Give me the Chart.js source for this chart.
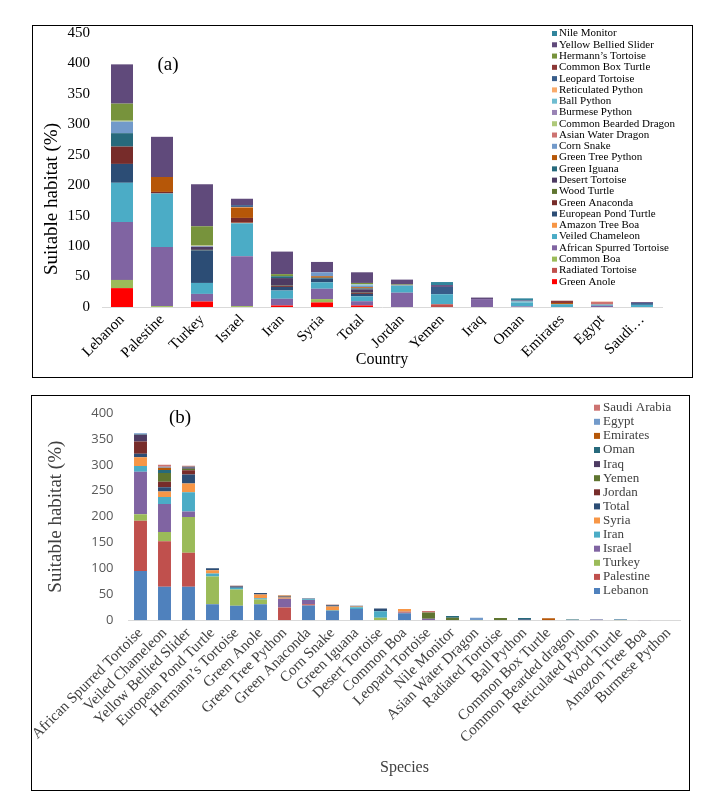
<!DOCTYPE html>
<html>
<head>
<meta charset="utf-8">
<script src="https://cdn.jsdelivr.net/npm/chart.js@4.4.0/dist/chart.umd.min.js"></script>
<style>
body{margin:0;background:#fff;}
.panel{position:absolute;border:1px solid #000;box-sizing:border-box;background:#fff;}
#pa{left:32px;top:25px;width:661px;height:353px;}
#pb{left:31px;top:395px;width:659px;height:396px;}
canvas{display:block;}
</style>
</head>
<body>
<div class="panel" id="pa"><canvas id="chartA"></canvas></div>
<div class="panel" id="pb"><canvas id="chartB"></canvas></div>
<script>
// countries (x axis of panel a, stacks of panel b)
const countries = ['Lebanon','Palestine','Turkey','Israel','Iran','Syria','Total','Jordan','Yemen','Iraq','Oman','Emirates','Egypt','Saudi Arabia'];
const countryTicks = ['Lebanon','Palestine','Turkey','Israel','Iran','Syria','Total','Jordan','Yemen','Iraq','Oman','Emirates','Egypt','Saudi\u2026'];
const countryColors = ['#4F81BD','#C0504D','#9BBB59','#8064A2','#4BACC6','#F79646','#2C4D75','#772C2A','#5F7530','#4D3B62','#276A7C','#B65708','#729ACA','#CD7371'];

// suitable habitat (%) per country, same order as countries
const greenAnole        = [31, 0, 9, 0, 2.5, 7.5, 2.5, 0, 0, 0, 0, 0, 0, 0];
const radiatedTortoise  = [0, 0, 0, 0, 0, 0, 0, 0, 4.5, 0, 0, 0, 0, 0];
const commonBoa         = [13.5, 1.5, 0, 1.5, 0, 5.5, 0, 0, 0, 0, 0, 0, 0, 0];
const africanSpurred    = [95, 97, 12.5, 82, 11, 17, 7, 23.5, 0, 13, 1, 0, 2, 0];
const veiledChameleon   = [64.5, 88, 18, 54, 13.5, 10.5, 8, 11, 16.5, 0, 6, 4.5, 2, 3.5];
const amazonTreeBoa     = [0, 0, 0, 0.8, 0, 0, 0, 0, 0, 0, 0, 0, 0, 0];
const europeanPond      = [31, 0, 53.5, 0, 6, 6, 4, 0, 0, 0, 0, 0, 0, 0];
const greenAnaconda     = [28.5, 2.5, 0, 8, 1.5, 0, 1.5, 0, 0, 0, 0, 0, 0, 0];
const woodTurtle        = [0, 0, 0.8, 0, 0.5, 0, 0.5, 0, 0, 0, 0, 0, 0, 0];
const desertTortoise    = [0, 0, 5, 0, 12.5, 0, 5.5, 0, 0, 0, 0, 0, 0, 0];
const greenIguana       = [22, 0, 0, 0, 3, 1.5, 1.5, 0, 0, 0, 0, 0, 0, 0];
const greenTreePython   = [0, 24.5, 0, 17, 0, 2.5, 2, 0, 0, 0, 0, 2, 0, 0];
const cornSnake         = [19, 0, 1, 0, 0, 6.5, 2.5, 1, 0, 0, 0, 0, 0, 0];
const asianWaterDragon  = [0, 0, 0.5, 0, 0, 0, 0, 0, 0, 0, 0, 0, 4.5, 0];
const beardedDragon     = [1.5, 0, 0.8, 0, 0, 0, 0, 0, 0, 0, 0, 0, 0, 0];
const burmesePython     = [0, 0, 0, 0, 0, 0, 0, 0, 0, 0, 0, 0, 0, 0];
const ballPython        = [0, 0, 0, 0, 0, 0, 2, 0, 0, 0, 2.2, 0, 0, 0];
const reticulatedPython = [0, 0, 0, 1, 0, 0, 0.5, 0, 0, 0, 0, 0, 0.5, 0];
const leopardTortoise   = [0, 0, 0, 3, 0, 0, 0, 0, 12, 0, 0, 0, 0, 3];
const commonBoxTurtle   = [0, 0, 0, 0, 0, 0, 0, 0, 0, 0, 0, 3.8, 0, 0];
const hermannsTortoise  = [28, 0, 31.5, 0, 3.5, 0, 2, 1.5, 0, 0, 0, 0, 0, 0];
const yellowBellied     = [64.5, 66, 69, 10.5, 37, 17, 17.5, 8, 3, 2.5, 1.5, 0, 0, 1.5];
const nileMonitor       = [0, 0, 0, 0, 0, 0, 0, 0, 5, 0, 3.5, 0, 0, 0];

// stack order of panel a, bottom to top
const speciesNames = ['Green Anole','Radiated Tortoise','Common Boa','African Spurred Tortoise','Veiled Chameleon','Amazon Tree Boa','European Pond Turtle','Green Anaconda','Wood Turtle','Desert Tortoise','Green Iguana','Green Tree Python','Corn Snake','Asian Water Dragon','Common Bearded Dragon','Burmese Python','Ball Python','Reticulated Python','Leopard Tortoise','Common Box Turtle','Hermann\u2019s Tortoise','Yellow Bellied Slider','Nile Monitor'];
const speciesValues = [greenAnole, radiatedTortoise, commonBoa, africanSpurred, veiledChameleon, amazonTreeBoa, europeanPond, greenAnaconda, woodTurtle, desertTortoise, greenIguana, greenTreePython, cornSnake, asianWaterDragon, beardedDragon, burmesePython, ballPython, reticulatedPython, leopardTortoise, commonBoxTurtle, hermannsTortoise, yellowBellied, nileMonitor];
const speciesColors = ['#FF0000','#C0504D','#9BBB59','#8064A2','#4BACC6','#F79646','#2C4D75','#772C2A','#5F7530','#4D3B62','#276A7C','#B65708','#729ACA','#CD7371','#AFC97A','#9983B5','#6FBDD1','#F9AB6B','#385D8A','#8C3836','#77933C','#604A7B','#31859C'];

// x order of panel b (by total) and its tick labels
const speciesOrderB = ['African Spurred Tortoise','Veiled Chameleon','Yellow Bellied Slider','European Pond Turtle','Hermann\u2019s Tortoise','Green Anole','Green Tree Python','Green Anaconda','Corn Snake','Green Iguana','Desert Tortoise','Common Boa','Leopard Tortoise','Nile Monitor','Asian Water Dragon','Radiated Tortoise','Ball Python','Common Box Turtle','Common Bearded Dragon','Reticulated Python','Wood Turtle','Amazon Tree Boa','Burmese Python'];
const speciesTicksB = ['African Spurred Tortoise','Veiled Chameleon','Yellow Bellied Slider','European Pond Turtle','Hermann\u2019s Tortoise','Green Anole','Green Tree Python','Green Anaconda','Corn Snake','Green Iguana','Desert Tortoise','Common Boa','Leopard Tortoise','Nile Monitor','Asian Water Dragon','Radiated Tortoise','Ball Python','Common Box Turtle','Common Bearded dragon','Reticulated Python','Wood Turtle','Amazon Tree Boa','Burmese Python'];

const serif = 'Liberation Serif';

// legend drawn inside the plot (last dataset on top), panel tag, optional y title
const sideLegend = {
  id: 'sideLegend',
  afterDraw(chart, args, o) {
    const ctx = chart.ctx;
    const sets = chart.data.datasets;
    ctx.save();
    ctx.font = o.font;
    ctx.textBaseline = 'middle';
    ctx.textAlign = 'left';
    let row = 0;
    for (let i = sets.length - 1; i >= 0; i--) {
      const y = o.top + row * o.step;
      ctx.fillStyle = sets[i].backgroundColor;
      ctx.fillRect(o.left, y - o.box / 2, o.box, o.box);
      ctx.fillStyle = o.color;
      ctx.fillText(sets[i].label, o.left + o.box + o.gap, y);
      row++;
    }
    ctx.font = o.tagFont;
    ctx.fillStyle = '#000';
    ctx.textAlign = 'center';
    ctx.fillText(o.tag, o.tagX, o.tagY);
    if (o.yTitle) {
      ctx.translate(o.yTitleX, o.yTitleY);
      ctx.rotate(-Math.PI / 2);
      ctx.font = o.yTitleFont;
      ctx.fillText(o.yTitle, 0, 0);
    }
    ctx.restore();
  }
};

// panel (a): species stacked by country
const dsA = speciesNames.map((name, i) => ({
  label: name,
  data: speciesValues[i],
  backgroundColor: speciesColors[i],
  barPercentage: 0.9,
  categoryPercentage: 0.61
}));

new Chart(document.getElementById('chartA'), {
  type: 'bar',
  data: { labels: countryTicks, datasets: dsA },
  options: {
    responsive: true,
    maintainAspectRatio: false,
    animation: false,
    layout: { padding: { left: 6, right: 30, top: 7, bottom: 6 } },
    plugins: {
      legend: { display: false },
      tooltip: { enabled: false },
      sideLegend: { left: 519, top: 7.5, step: 11.28, box: 5, gap: 2, font: '11px ' + serif, color: '#000',
                    tag: '(a)', tagX: 135, tagY: 39, tagFont: '19px ' + serif,
                    yTitle: 'Suitable habitat (%)', yTitleX: 19, yTitleY: 173, yTitleFont: '19px ' + serif }
    },
    scales: {
      x: {
        stacked: true,
        grid: { display: false, drawTicks: false },
        border: { display: true, color: '#D9D9D9' },
        ticks: { color: '#000', font: { family: serif, size: 15 }, minRotation: 45, maxRotation: 45, autoSkip: false, padding: 4 },
        title: { display: true, text: 'Country', color: '#000', font: { family: serif, size: 16 }, padding: { top: 0, bottom: 2 } },
        afterFit(s) { s.height = 64; s.paddingLeft = 0; s.paddingRight = 0; }
      },
      y: {
        stacked: true,
        min: 0, max: 450,
        grid: { display: false, drawTicks: false },
        border: { display: false },
        ticks: { stepSize: 50, color: '#000', font: { family: serif, size: 15, lineHeight: 1 }, padding: 12 },
        afterFit(s) { s.width = 63; s.paddingTop = 0; s.paddingBottom = 0; }
      }
    }
  },
  plugins: [sideLegend]
});

// panel (b): countries stacked by species
const dsB = countries.map((name, c) => ({
  label: name,
  data: speciesOrderB.map(sp => speciesValues[speciesNames.indexOf(sp)][c]),
  backgroundColor: countryColors[c],
  barPercentage: 0.9,
  categoryPercentage: 0.6
}));

new Chart(document.getElementById('chartB'), {
  type: 'bar',
  data: { labels: speciesTicksB, datasets: dsB },
  options: {
    responsive: true,
    maintainAspectRatio: false,
    animation: false,
    layout: { padding: { left: 13, right: 8.5, top: 17, bottom: 11 } },
    plugins: {
      legend: { display: false },
      tooltip: { enabled: false },
      sideLegend: { left: 562, top: 11.7, step: 14.1, box: 6, gap: 3, font: '13px ' + serif, color: '#404040',
                    tag: '(b)', tagX: 148, tagY: 22, tagFont: '19px ' + serif }
    },
    scales: {
      x: {
        stacked: true,
        grid: { display: false, drawTicks: false },
        border: { display: true, color: '#D9D9D9' },
        ticks: { color: '#404040', font: { family: serif, size: 15 }, minRotation: 45, maxRotation: 45, autoSkip: false, padding: 4 },
        title: { display: true, text: 'Species', color: '#404040', font: { family: serif, size: 16 }, padding: { top: 0, bottom: 2 } },
        afterFit(s) { s.height = 158.7; s.paddingLeft = 0; s.paddingRight = 0; }
      },
      y: {
        stacked: true,
        min: 0, max: 400,
        grid: { display: false, drawTicks: false },
        border: { display: false },
        ticks: { stepSize: 50, color: '#595959', font: { family: 'Open Sans', size: 13, lineHeight: 1 }, padding: 15 },
        title: { display: true, text: 'Suitable habitat (%)', color: '#404040', font: { family: serif, size: 19 }, padding: { top: 0, bottom: 0 } },
        afterFit(s) { s.width = 83.5; s.paddingTop = 0; s.paddingBottom = 0; }
      }
    }
  },
  plugins: [sideLegend]
});
</script>
</body>
</html>
